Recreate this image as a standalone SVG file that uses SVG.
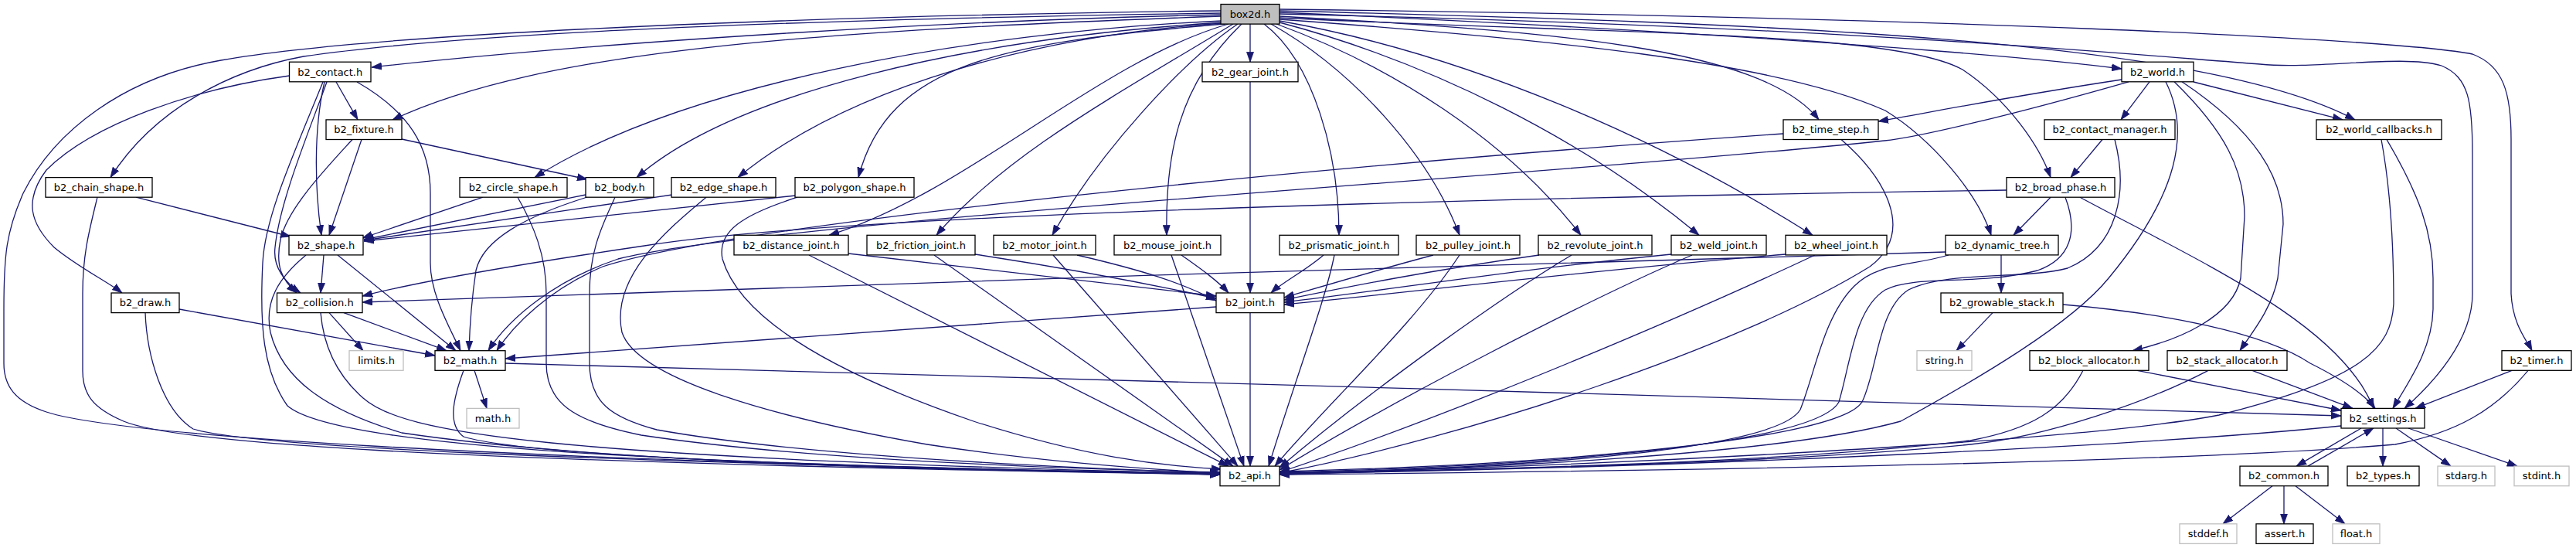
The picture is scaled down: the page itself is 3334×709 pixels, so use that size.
<svg xmlns="http://www.w3.org/2000/svg" width="3334" height="709" viewBox="0 0 3334 709">
<style>
.e{fill:none;stroke:#191970;stroke-width:1.3;marker-end:url(#arr)}
.n rect{fill:#ffffff;stroke:#000000;stroke-width:1.3}
.x rect{fill:#ffffff;stroke:#bfbfbf;stroke-width:1.3}
.r rect{fill:#bfbfbf;stroke:#000000;stroke-width:1.3}
text{font-family:"DejaVu Sans","Liberation Sans",sans-serif;font-size:13px;fill:#000000;text-anchor:middle}
</style>
<defs>
<marker id="arr" viewBox="0 0 13 10" refX="13" refY="5" markerWidth="13" markerHeight="10" markerUnits="userSpaceOnUse" orient="auto">
<path d="M0,0.5 L13,5 L0,9.5 z" fill="#191970" stroke="#191970" stroke-width="0.8"/>
</marker>
</defs>
<rect width="3334" height="709" fill="#ffffff"/>
<g id="edges">
<path class="e" d="M1580,19 C1250,26 800,52 481,87"/>
<path class="e" d="M1580,21 C1050,40 700,65 508,155"/>
<path class="e" d="M1580,17 C1100,24 620,40 393,73 C300,90 200,140 143,229.6"/>
<path class="e" d="M1580,14 C1100,20 500,40 286,78 C160,100 70,170 30,250 C8,300 5,330 5,400 L5,470 C5,500 20,520 60,533 C150,562 600,595 1579,614"/>
<path class="e" d="M1581,27 C1250,42 880,110 692,229.6"/>
<path class="e" d="M1582,29 C1250,50 950,120 824,229.6"/>
<path class="e" d="M1583,30 C1350,45 1100,110 955,229.6"/>
<path class="e" d="M1585,31 C1300,55 1150,80 1111,229.6"/>
<path class="e" d="M1590,31 C1420,80 1250,250 1073,304.3"/>
<path class="e" d="M1596,31 C1450,120 1300,200 1212,304.3"/>
<path class="e" d="M1602,31 C1530,80 1420,200 1362,304.3"/>
<path class="e" d="M1607,31 C1525,110 1508,200 1510,304.3"/>
<path class="e" d="M1618,31 L1618,80.2"/>
<path class="e" d="M1636,31 C1700,80 1733,200 1733,304.3"/>
<path class="e" d="M1645,31 C1750,90 1850,200 1889,304.3"/>
<path class="e" d="M1652,31 C1800,85 1950,180 2046,304.3"/>
<path class="e" d="M1656,29 C1850,80 2050,180 2199,304.3"/>
<path class="e" d="M1656,27 C1900,70 2150,180 2346,304.3"/>
<path class="e" d="M1656,21 C2000,40 2280,60 2354,154.9"/>
<path class="e" d="M1656,16 C2200,40 2600,70 2746,89"/>
<path class="e" d="M1656,14 C2300,30 2850,50 3048,154.9"/>
<path class="e" d="M1656,23 C2100,45 2450,40 2540,90 C2600,130 2640,190 2654,229.6"/>
<path class="e" d="M1656,25 C2000,50 2300,80 2440,143 C2500,180 2560,250 2577,304.3"/>
<path class="e" d="M1656,12 C2500,22 3100,50 3200,70 C3240,85 3250,120 3250,180 L3250,380 C3252,420 3270,440 3277,453.7"/>
<path class="e" d="M1656,18 C2400,35 2750,70 2925,83 C3000,90 3110,70 3160,85 C3195,100 3200,130 3200,200 L3200,380 C3200,440 3150,495 3112,528.4"/>
<path class="e" d="M435,106 L463,154.9"/>
<path class="e" d="M420,106 C405,170 408,250 416,304.3"/>
<path class="e" d="M423,106 C400,170 362,260 356,320 C353,345 368,365 389,379"/>
<path class="e" d="M418,106 C380,200 343,280 340,340 C336,420 340,480 372,525 C430,575 800,600 1579,613"/>
<path class="e" d="M462,106 C530,145 557,190 557,250 L557,340 C557,380 580,420 596,453.7"/>
<path class="e" d="M374.5,98 C250,115 120,160 60,220 C30,260 40,290 70,320 C100,345 140,365 158,379"/>
<path class="e" d="M520,180 L760,232"/>
<path class="e" d="M468,180.5 L426,304.3"/>
<path class="e" d="M456,180.5 C420,220 372,270 363,310 C356,345 365,362 384,379"/>
<path class="e" d="M758,252 L471,310"/>
<path class="e" d="M760,255 C680,280 625,310 616,350 C610,390 608,420 607,453.7"/>
<path class="e" d="M796,255.2 C775,300 763,330 763,380 L763,470 C763,520 790,540 850,556 C1050,592 1400,606 1579,612"/>
<path class="e" d="M625,255.2 L469,308"/>
<path class="e" d="M670,255.2 C690,290 707,330 707,380 L707,470 C707,520 740,545 830,563 C1050,596 1400,607 1579,611"/>
<path class="e" d="M870,252 L471,311"/>
<path class="e" d="M914,255.2 C860,300 790,360 805,430 C825,490 1000,540 1200,575 C1350,598 1480,607 1579,612"/>
<path class="e" d="M1030,253 L471,312"/>
<path class="e" d="M1032,255.2 C960,278 928,300 935,335 C960,420 1100,490 1260,545 C1400,590 1500,603 1581,607"/>
<path class="e" d="M176,255.2 L376,306"/>
<path class="e" d="M126,255.2 C115,300 107,330 107,380 L107,480 C107,510 120,528 160,545 C220,570 500,597 1579,614"/>
<path class="e" d="M419,330 L415,379"/>
<path class="e" d="M437,330 L590,453.7"/>
<path class="e" d="M396,330 C360,360 342,390 350,430 C365,490 420,530 520,560 C800,602 1300,610 1579,613"/>
<path class="e" d="M426,404.6 L470,453.7"/>
<path class="e" d="M445,404.6 L578,453.7"/>
<path class="e" d="M415,404.6 C418,440 430,480 470,515 C520,560 700,592 1579,613"/>
<path class="e" d="M614,479.3 L630,528.4"/>
<path class="e" d="M600,479.3 C585,520 580,550 600,565 C700,596 1300,609 1579,612"/>
<path class="e" d="M654,470 C1200,484 2500,522 3030,538"/>
<path class="e" d="M232,400 L563,460"/>
<path class="e" d="M188,404.6 C190,460 210,530 250,555 C320,577 700,596 1579,614"/>
<path class="e" d="M1574,397 L654,464"/>
<path class="e" d="M1618,404.6 L1618,603.1"/>
<path class="e" d="M1098,328 C1300,350 1450,370 1574,383"/>
<path class="e" d="M1047,330 L1590,603.1"/>
<path class="e" d="M1262,329 C1400,350 1500,370 1574,386"/>
<path class="e" d="M1209,330 L1596,603.1"/>
<path class="e" d="M1394,330 C1480,350 1530,366 1574,389"/>
<path class="e" d="M1363,330 L1602,603.1"/>
<path class="e" d="M1529,330 C1550,345 1575,362 1590,379"/>
<path class="e" d="M1516,330 L1610,603.1"/>
<path class="e" d="M1618,105.8 L1618,379"/>
<path class="e" d="M1713,330 C1690,350 1660,365 1645,379"/>
<path class="e" d="M1727,330 C1715,390 1680,480 1642,603.1"/>
<path class="e" d="M1855,330 C1780,350 1720,368 1662,385"/>
<path class="e" d="M1889,330 C1830,420 1720,520 1650,603.1"/>
<path class="e" d="M1992,330 C1850,350 1750,370 1662,388"/>
<path class="e" d="M2034,330 C1950,380 1780,500 1656,605"/>
<path class="e" d="M2163,329 C1950,350 1800,375 1662,391"/>
<path class="e" d="M2190,330 C2050,390 1800,520 1656,608"/>
<path class="e" d="M2311,329 C2050,350 1850,376 1662,394"/>
<path class="e" d="M2349,330 C2200,400 1900,530 1656,611"/>
<path class="e" d="M2308,173 C1700,215 950,290 780,345 C710,375 665,420 643,453.7"/>
<path class="e" d="M2383,180.5 C2440,230 2480,300 2420,345 C2250,450 1900,565 1656,612"/>
<path class="e" d="M2746,103 C2600,125 2500,145 2431,157"/>
<path class="e" d="M2755,105.8 C2600,150 2480,178 2439,182 C2000,228 1000,285 800,335 C720,362 660,410 632,453.7"/>
<path class="e" d="M2782,105.8 L2745,154.9"/>
<path class="e" d="M2839,106 L3032,154.9"/>
<path class="e" d="M2803,105.8 C2835,170 2820,250 2729,360 C2680,420 2560,490 2460,545 C2300,590 1900,606 1656,614"/>
<path class="e" d="M2814,105.8 C2880,170 2905,220 2905,280 L2900,360 C2890,410 2820,440 2760,453.7"/>
<path class="e" d="M2824,105.8 C2920,170 2955,230 2955,290 L2948,360 C2940,400 2915,430 2899,453.7"/>
<path class="e" d="M2721,180.5 L2680,229.6"/>
<path class="e" d="M2737,180.5 C2755,250 2740,320 2676,347 C2620,362 2520,350 2470,375 C2430,400 2430,480 2410,520 C2380,570 2000,602 1656,610"/>
<path class="e" d="M2654,255.2 L2606,304.3"/>
<path class="e" d="M2597,246 C2000,255 1100,275 834,318 C650,345 540,365 469,383"/>
<path class="e" d="M2673,255.2 C2690,300 2680,335 2637,350 C2560,370 2480,355 2440,375 C2400,400 2395,470 2380,520 C2350,575 2000,603 1656,611"/>
<path class="e" d="M2692,255.2 C2850,340 3030,420 3072,528.4"/>
<path class="e" d="M2590,329.9 L2590,379"/>
<path class="e" d="M2518,326 C2000,340 1000,370 469,391"/>
<path class="e" d="M2522,330 C2470,345 2430,340 2400,370 C2360,410 2350,480 2330,530 C2300,580 2000,605 1656,612"/>
<path class="e" d="M2579,404.6 L2532,453.7"/>
<path class="e" d="M2670,394 C2800,405 2930,430 2990,470 C3030,490 3060,510 3074,528.4"/>
<path class="e" d="M2766,479.3 L3030,531"/>
<path class="e" d="M2696,479.3 C2670,530 2630,555 2550,570 C2300,600 1900,608 1656,612"/>
<path class="e" d="M2915,479.3 L3045,528.4"/>
<path class="e" d="M2858,479.3 C2780,520 2650,565 2550,575 C2300,600 1900,608 1656,613"/>
<path class="e" d="M3089,180.5 C3130,250 3149,300 3149,360 L3149,400 C3148,450 3120,490 3097,528.4"/>
<path class="e" d="M3082,180.5 C3095,250 3098,320 3098,393 C3095,450 3060,490 2872,537 C2700,570 2100,603 1656,612"/>
<path class="e" d="M3251,479.3 L3126,528.4"/>
<path class="e" d="M3272,479.3 C3230,530 3180,560 3100,575 C2800,600 2100,610 1656,614"/>
<path class="e" d="M3030,551 C2800,575 2200,605 1656,613"/>
<path class="e" d="M3056,554 L2972,603.1"/>
<path class="e" d="M3084,554 L3084,603.1"/>
<path class="e" d="M3101,554 L3172,603.1"/>
<path class="e" d="M3117,554 L3258,603.1"/>
<path class="e" d="M2987,603.1 L3072,554"/>
<path class="e" d="M2941,628.7 L2877,677.8"/>
<path class="e" d="M2956,628.7 L2956,677.8"/>
<path class="e" d="M2971,628.7 L3035,677.8"/>
</g>
<g id="n_box2d" class="r"><rect x="1580" y="5.5" width="76" height="25.6"/><text x="1618" y="22.8">box2d.h</text></g>
<g id="n_contact" class="n"><rect x="374.5" y="80.2" width="105.5" height="25.6"/><text x="427.2" y="97.5">b2_contact.h</text></g>
<g id="n_gear" class="n"><rect x="1556" y="80.2" width="124" height="25.6"/><text x="1618" y="97.5">b2_gear_joint.h</text></g>
<g id="n_world" class="n"><rect x="2746" y="80.2" width="93" height="25.6"/><text x="2792.5" y="97.5">b2_world.h</text></g>
<g id="n_fixture" class="n"><rect x="422" y="154.9" width="98" height="25.6"/><text x="471" y="172.2">b2_fixture.h</text></g>
<g id="n_time_step" class="n"><rect x="2308" y="154.9" width="123" height="25.6"/><text x="2369.5" y="172.2">b2_time_step.h</text></g>
<g id="n_contact_manager" class="n"><rect x="2646" y="154.9" width="169" height="25.6"/><text x="2730.5" y="172.2">b2_contact_manager.h</text></g>
<g id="n_world_callbacks" class="n"><rect x="2998" y="154.9" width="162" height="25.6"/><text x="3079" y="172.2">b2_world_callbacks.h</text></g>
<g id="n_chain_shape" class="n"><rect x="59" y="229.6" width="138" height="25.6"/><text x="128" y="246.9">b2_chain_shape.h</text></g>
<g id="n_circle_shape" class="n"><rect x="595" y="229.6" width="139" height="25.6"/><text x="664.5" y="246.9">b2_circle_shape.h</text></g>
<g id="n_body" class="n"><rect x="758" y="229.6" width="88" height="25.6"/><text x="802" y="246.9">b2_body.h</text></g>
<g id="n_edge_shape" class="n"><rect x="869" y="229.6" width="135" height="25.6"/><text x="936.5" y="246.9">b2_edge_shape.h</text></g>
<g id="n_polygon_shape" class="n"><rect x="1029" y="229.6" width="154" height="25.6"/><text x="1106" y="246.9">b2_polygon_shape.h</text></g>
<g id="n_broad_phase" class="n"><rect x="2597" y="229.6" width="140" height="25.6"/><text x="2667" y="246.9">b2_broad_phase.h</text></g>
<g id="n_shape" class="n"><rect x="374" y="304.3" width="96" height="25.6"/><text x="422" y="321.6">b2_shape.h</text></g>
<g id="n_distance_joint" class="n"><rect x="950" y="304.3" width="148" height="25.6"/><text x="1024" y="321.6">b2_distance_joint.h</text></g>
<g id="n_friction_joint" class="n"><rect x="1122" y="304.3" width="140" height="25.6"/><text x="1192" y="321.6">b2_friction_joint.h</text></g>
<g id="n_motor_joint" class="n"><rect x="1286" y="304.3" width="132" height="25.6"/><text x="1352" y="321.6">b2_motor_joint.h</text></g>
<g id="n_mouse_joint" class="n"><rect x="1442" y="304.3" width="138" height="25.6"/><text x="1511" y="321.6">b2_mouse_joint.h</text></g>
<g id="n_prismatic_joint" class="n"><rect x="1656" y="304.3" width="154" height="25.6"/><text x="1733" y="321.6">b2_prismatic_joint.h</text></g>
<g id="n_pulley_joint" class="n"><rect x="1833" y="304.3" width="134" height="25.6"/><text x="1900" y="321.6">b2_pulley_joint.h</text></g>
<g id="n_revolute_joint" class="n"><rect x="1991" y="304.3" width="147" height="25.6"/><text x="2064.5" y="321.6">b2_revolute_joint.h</text></g>
<g id="n_weld_joint" class="n"><rect x="2163" y="304.3" width="123" height="25.6"/><text x="2224.5" y="321.6">b2_weld_joint.h</text></g>
<g id="n_wheel_joint" class="n"><rect x="2311" y="304.3" width="131" height="25.6"/><text x="2376.5" y="321.6">b2_wheel_joint.h</text></g>
<g id="n_dynamic_tree" class="n"><rect x="2518" y="304.3" width="146" height="25.6"/><text x="2591" y="321.6">b2_dynamic_tree.h</text></g>
<g id="n_draw" class="n"><rect x="144" y="379" width="88" height="25.6"/><text x="188" y="396.3">b2_draw.h</text></g>
<g id="n_collision" class="n"><rect x="358.5" y="379" width="110.5" height="25.6"/><text x="413.7" y="396.3">b2_collision.h</text></g>
<g id="n_joint" class="n"><rect x="1574" y="379" width="88" height="25.6"/><text x="1618" y="396.3">b2_joint.h</text></g>
<g id="n_growable_stack" class="n"><rect x="2512" y="379" width="158" height="25.6"/><text x="2591" y="396.3">b2_growable_stack.h</text></g>
<g id="n_limits" class="x"><rect x="452" y="453.7" width="70" height="25.6"/><text x="487" y="471">limits.h</text></g>
<g id="n_b2math" class="n"><rect x="563" y="453.7" width="91" height="25.6"/><text x="608.5" y="471">b2_math.h</text></g>
<g id="n_string" class="x"><rect x="2481" y="453.7" width="71" height="25.6"/><text x="2516.5" y="471">string.h</text></g>
<g id="n_block_allocator" class="n"><rect x="2627" y="453.7" width="154" height="25.6"/><text x="2704" y="471">b2_block_allocator.h</text></g>
<g id="n_stack_allocator" class="n"><rect x="2805" y="453.7" width="155" height="25.6"/><text x="2882.5" y="471">b2_stack_allocator.h</text></g>
<g id="n_timer" class="n"><rect x="3238" y="453.7" width="90" height="25.6"/><text x="3283" y="471">b2_timer.h</text></g>
<g id="n_mathh" class="x"><rect x="604" y="528.4" width="68" height="25.6"/><text x="638" y="545.7">math.h</text></g>
<g id="n_settings" class="n"><rect x="3030" y="528.4" width="108" height="25.6"/><text x="3084" y="545.7">b2_settings.h</text></g>
<g id="n_api" class="n"><rect x="1579" y="603.1" width="77" height="25.6"/><text x="1617.5" y="620.4">b2_api.h</text></g>
<g id="n_common" class="n"><rect x="2899" y="603.1" width="114" height="25.6"/><text x="2956" y="620.4">b2_common.h</text></g>
<g id="n_types" class="n"><rect x="3038" y="603.1" width="93" height="25.6"/><text x="3084.5" y="620.4">b2_types.h</text></g>
<g id="n_stdarg" class="x"><rect x="3155" y="603.1" width="74" height="25.6"/><text x="3192" y="620.4">stdarg.h</text></g>
<g id="n_stdint" class="x"><rect x="3254" y="603.1" width="71" height="25.6"/><text x="3289.5" y="620.4">stdint.h</text></g>
<g id="n_stddef" class="x"><rect x="2821" y="677.8" width="74" height="25.6"/><text x="2858" y="695.1">stddef.h</text></g>
<g id="n_assert" class="n"><rect x="2920" y="677.8" width="74" height="25.6"/><text x="2957" y="695.1">assert.h</text></g>
<g id="n_float" class="x"><rect x="3019" y="677.8" width="61" height="25.6"/><text x="3049.5" y="695.1">float.h</text></g>
</svg>
